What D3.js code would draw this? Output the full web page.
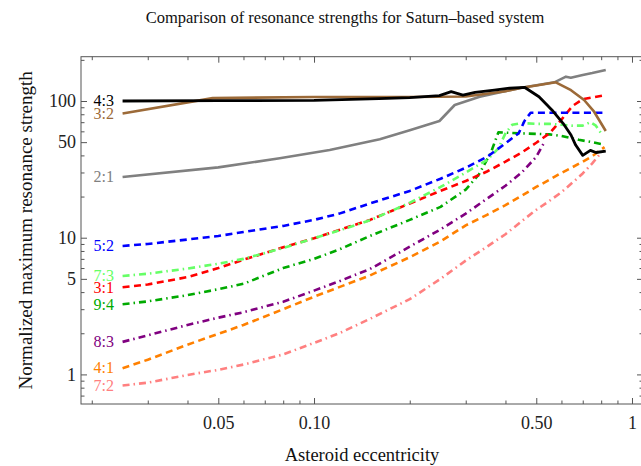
<!DOCTYPE html>
<html><head><meta charset="utf-8">
<script src="https://cdn.jsdelivr.net/npm/d3@7/dist/d3.min.js"></script>
<style>body{margin:0;background:#fff}svg{display:block}</style>
</head><body>
<svg id="c" width="641" height="466"></svg>
<script>
// ---- data ----
const ecc_4_3 = [0.025,0.05,0.1,0.16,0.2,0.248,0.27,0.294,0.321,0.369,0.412,0.459,0.51,0.56,0.607,0.643,0.665,0.70,0.74,0.77,0.827];
const str_4_3 = [100,100.5,101,104,106,109.6,117,110.5,115.6,120,124,126,107.5,86,68.7,56.4,47.6,40,43.5,42,43];

const ecc_3_2 = [0.025,0.048,0.1,0.2,0.3,0.4,0.45,0.5,0.576,0.643,0.707,0.76,0.827];
const str_3_2 = [81,105,107,107,108,118,125,130,137,120,101.7,83.5,60.3];

const ecc_2_1 = [0.025,0.05,0.078,0.112,0.161,0.2,0.248,0.277,0.332,0.412,0.459,0.57,0.62,0.642,0.7,0.75,0.827];
const str_2_1 = [27.8,32.7,38.1,43.8,52.5,61,71.4,93.5,107.5,120,126,137,150.7,148,155,160,168.6];

const ecc_5_2 = [0.025,0.03,0.04,0.05,0.06,0.08,0.1,0.12,0.15,0.2,0.25,0.3,0.35,0.4,0.44,0.46,0.48,0.55,0.65,0.75,0.82];
const str_5_2 = [8.7,9.0,9.7,10.3,11.0,12.2,13.5,15.0,17.8,22.0,27.0,32.5,39.0,49,58,72,82,82,82,82,82];

const ecc_7_3 = [0.025,0.03,0.04,0.05,0.06,0.08,0.1,0.12,0.15,0.2,0.25,0.3,0.35,0.38,0.4,0.42,0.45,0.5,0.55,0.6,0.65,0.7,0.74,0.77,0.80];
const str_7_3 = [5.25,5.45,5.95,6.45,7.0,8.4,9.9,11.3,13.4,18,23.5,30,37,45,58,67,69,68,68,67,66,66,70,66,58];

const ecc_3_1 = [0.025,0.03,0.04,0.05,0.06,0.08,0.1,0.12,0.15,0.2,0.25,0.3,0.35,0.4,0.45,0.5,0.55,0.6,0.65,0.7,0.75,0.82];
const str_3_1 = [4.34,4.55,5.15,6.0,6.9,8.5,9.9,11.4,13.5,17.8,22,26,30.5,36,42,49.5,58,73,92,103,106,110];

const ecc_9_4 = [0.025,0.03,0.04,0.05,0.06,0.08,0.1,0.12,0.15,0.2,0.25,0.3,0.33,0.36,0.38,0.45,0.55,0.6,0.68,0.75,0.80];
const str_9_4 = [3.26,3.42,3.8,4.2,4.6,6.0,7.0,8.2,10.3,13.5,16.8,22.5,29,42,59,58,57,55.5,52,50,48.5];

const ecc_8_3 = [0.025,0.03,0.04,0.05,0.06,0.08,0.1,0.12,0.15,0.2,0.25,0.3,0.35,0.4,0.45,0.5,0.53];
const str_8_3 = [1.73,1.93,2.3,2.6,2.85,3.4,4.1,4.8,5.9,8.6,11.5,15.0,19.3,24,30,39,50];

const ecc_4_1 = [0.025,0.03,0.04,0.05,0.06,0.08,0.1,0.12,0.15,0.2,0.25,0.3,0.35,0.4,0.45,0.5,0.55,0.6,0.65,0.7,0.75,0.82];
const str_4_1 = [1.11,1.28,1.65,1.98,2.3,3.0,3.7,4.35,5.3,7.2,9.4,12.3,14.7,17.3,20.3,23.5,26.5,29.8,32.8,36,39.5,46];

const ecc_7_2 = [0.025,0.03,0.04,0.05,0.06,0.08,0.1,0.12,0.15,0.2,0.25,0.3,0.35,0.4,0.45,0.5,0.55,0.6,0.65,0.7,0.75,0.8];
const str_7_2 = [0.83,0.87,0.99,1.08,1.18,1.4,1.7,2.0,2.55,3.55,5.0,6.8,8.6,10.6,13.2,16,18.6,21.5,25.3,29.5,35,42];

const seriesNames = ["7:2","4:1","8:3","9:4","3:1","7:3","5:2","2:1","3:2","4:3"];
const seriesEcc = [ecc_7_2,ecc_4_1,ecc_8_3,ecc_9_4,ecc_3_1,ecc_7_3,ecc_5_2,ecc_2_1,ecc_3_2,ecc_4_3];
const seriesStr = [str_7_2,str_4_1,str_8_3,str_9_4,str_3_1,str_7_3,str_5_2,str_2_1,str_3_2,str_4_3];

const xMajorTicks = [0.05,0.1,0.5,1];
const xMajorLabels = ["0.05","0.10","0.50","1"];
const xMinorTicks = [0.02,0.03,0.04,0.06,0.07,0.08,0.09,0.2,0.3,0.4,0.6,0.7,0.8,0.9];
const yMajorTicks = [1,5,10,50,100];
const yMajorLabels = ["1","5","10","50","100"];
const yMinorTicks = [0.7,0.8,0.9,2,3,4,6,7,8,9,20,30,40,60,70,80,90,200];

const titleText = "Comparison of resonance strengths for Saturn\u2013based system";
const xTitle = "Asteroid eccentricity";
const yTitle = "Normalized maximum resonance strength";

// ---- styles ----
const styles = {
  "4:3": {color:"#000000", label:"#000000", dash:null, w:2.8},
  "3:2": {color:"#9c6a38", label:"#9c6a38", dash:null, w:2.6},
  "2:1": {color:"#808080", label:"#808080", dash:null, w:2.6},
  "5:2": {color:"#0000ff", label:"#0000ff", dash:"7,4.5", w:2.6},
  "7:3": {color:"#66ff66", label:"#66ff66", dash:"7,4,1.5,4", w:2.6},
  "3:1": {color:"#ff0000", label:"#ff0000", dash:"7,4.5", w:2.6},
  "9:4": {color:"#00aa00", label:"#00aa00", dash:"7,4,1.5,4", w:2.6},
  "8:3": {color:"#800080", label:"#800080", dash:"7,4,1.5,4", w:2.6},
  "4:1": {color:"#ff8000", label:"#ff8000", dash:"7,4.5", w:2.6},
  "7:2": {color:"#ff8080", label:"#ff8080", dash:"7,4,1.5,4", w:2.6}
};

const L = 81, R = 643, T = 56.7, B = 404;
const FONT = "'Liberation Serif','DejaVu Serif',serif";
const frameCol = "#555";

const x = d3.scaleLog().domain([0.0185, 1.083]).range([L, R]);
const y = d3.scaleLog().domain([0.6075, 210.9]).range([B, T]);

const svg = d3.select("#c");

svg.append("defs").append("clipPath").attr("id","clip")
  .append("rect").attr("x",L).attr("y",T).attr("width",R-L).attr("height",B-T);

// frame
svg.append("rect").attr("x",L).attr("y",T).attr("width",R-L).attr("height",B-T)
  .attr("fill","none").attr("stroke",frameCol).attr("stroke-width",1);

function styleAxis(g){
  g.select(".domain").remove();
  g.selectAll(".tick line").attr("stroke",frameCol).attr("stroke-width",1);
  g.selectAll(".tick text").attr("fill","#222").style("font-family",FONT);
}

// bottom
svg.append("g").attr("transform",`translate(0,${B})`)
  .call(d3.axisBottom(x).tickValues(xMajorTicks).tickSize(-6).tickPadding(12)
        .tickFormat((d,i)=>xMajorLabels[i]))
  .call(styleAxis).style("font-size","18px");
svg.append("g").attr("transform",`translate(0,${B})`)
  .call(d3.axisBottom(x).tickValues(xMinorTicks).tickSize(-3.5).tickFormat(""))
  .call(styleAxis);
// top
svg.append("g").attr("transform",`translate(0,${T})`)
  .call(d3.axisTop(x).tickValues(xMajorTicks).tickSize(-6).tickFormat(""))
  .call(styleAxis);
svg.append("g").attr("transform",`translate(0,${T})`)
  .call(d3.axisTop(x).tickValues(xMinorTicks).tickSize(-3.5).tickFormat(""))
  .call(styleAxis);
// left
svg.append("g").attr("transform",`translate(${L},0)`)
  .call(d3.axisLeft(y).tickValues(yMajorTicks).tickSize(-6).tickPadding(5)
        .tickFormat((d,i)=>yMajorLabels[i]))
  .call(styleAxis).style("font-size","18px");
svg.append("g").attr("transform",`translate(${L},0)`)
  .call(d3.axisLeft(y).tickValues(yMinorTicks).tickSize(-3.5).tickFormat(""))
  .call(styleAxis);
// right
svg.append("g").attr("transform",`translate(${R},0)`)
  .call(d3.axisRight(y).tickValues(yMajorTicks).tickSize(-6).tickFormat(""))
  .call(styleAxis);
svg.append("g").attr("transform",`translate(${R},0)`)
  .call(d3.axisRight(y).tickValues(yMinorTicks).tickSize(-3.5).tickFormat(""))
  .call(styleAxis);

// curves
const line = d3.line().x(d=>x(d[0])).y(d=>y(d[1]));
const plot = svg.append("g").attr("clip-path","url(#clip)");
seriesNames.forEach((name,i)=>{
  const st = styles[name];
  const pts = seriesEcc[i].map((e,j)=>[e, seriesStr[i][j]]);
  plot.append("path").datum(pts).attr("d",line)
    .attr("fill","none").attr("stroke",st.color).attr("stroke-width",st.w)
    .attr("stroke-linejoin","round")
    .attr("stroke-dasharray",st.dash);
  svg.append("text").attr("x",114).attr("y",y(pts[0][1])).attr("dy","0.33em")
    .attr("text-anchor","end").attr("fill",st.label)
    .style("font-family",FONT).style("font-size","16px").text(name);
});

// titles
svg.append("text").attr("x",345).attr("y",23).attr("text-anchor","middle")
  .style("font-family",FONT).style("font-size","16.5px").attr("fill","#111").text(titleText);
svg.append("text").attr("x",(L+R)/2).attr("y",461).attr("text-anchor","middle")
  .style("font-family",FONT).style("font-size","18.5px").attr("fill","#111").text(xTitle);
svg.append("text").attr("transform",`translate(32,${(T+B)/2}) rotate(-90)`).attr("text-anchor","middle")
  .style("font-family",FONT).style("font-size","19px").attr("fill","#111").text(yTitle);
</script>
</body></html>
